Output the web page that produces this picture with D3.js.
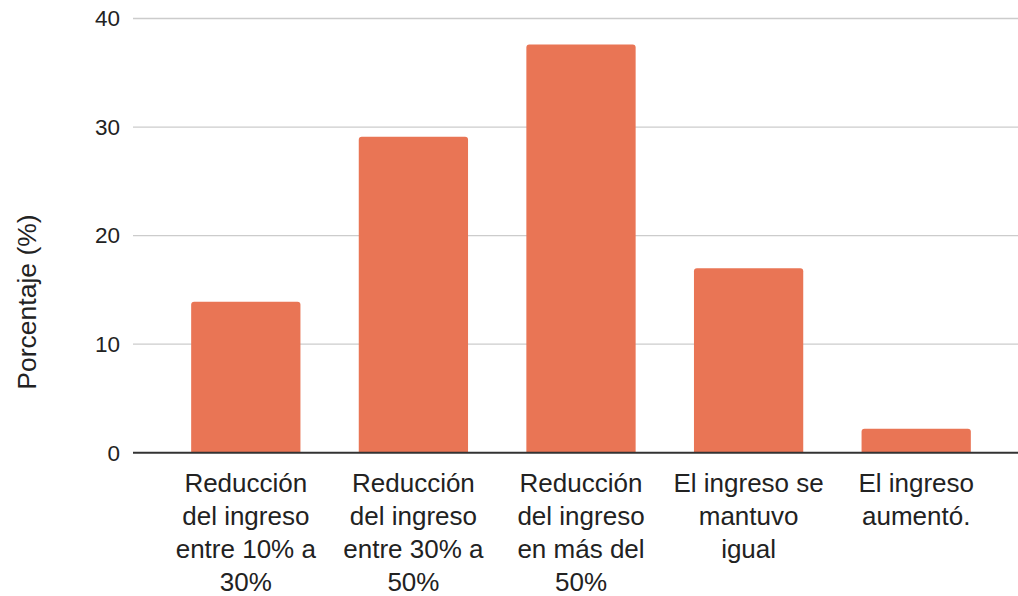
<!DOCTYPE html>
<html>
<head>
<meta charset="utf-8">
<script src="https://cdn.jsdelivr.net/npm/d3@7"></script>
<style>
  body { margin: 0; background: #fff; }
  svg { display: block; font-family: "Liberation Sans", Arial, sans-serif; }
</style>
</head>
<body>
<svg width="1018" height="596"></svg>
<script>
// chart data
var categories = [
  ["Reducción", "del ingreso", "entre 10% a", "30%"],
  ["Reducción", "del ingreso", "entre 30% a", "50%"],
  ["Reducción", "del ingreso", "en más del", "50%"],
  ["El ingreso se", "mantuvo", "igual"],
  ["El ingreso", "aumentó."]
];
var values = [13.9, 29.1, 37.6, 17.0, 2.2];
var yTicks = [0, 10, 20, 30, 40];
var yTitle = "Porcentaje (%)";

var svg = d3.select("svg");

// scales
var x = d3.scaleBand()
  .domain(d3.range(categories.length))
  .range([162, 1000])
  .paddingInner(0.348)
  .paddingOuter(0.174);

var y = d3.scaleLinear()
  .domain([0, 40])
  .range([452.7, 18.5]);

// gridlines
svg.append("g")
  .selectAll("line")
  .data(yTicks.filter(function(d){ return d > 0; }))
  .enter().append("line")
    .attr("x1", 133)
    .attr("x2", 1018)
    .attr("y1", function(d){ return y(d); })
    .attr("y2", function(d){ return y(d); })
    .attr("stroke", "#cccccc")
    .attr("stroke-width", 1.3);

// y tick labels
svg.append("g")
  .selectAll("text")
  .data(yTicks)
  .enter().append("text")
    .attr("x", 120)
    .attr("y", function(d){ return y(d); })
    .attr("dy", "0.35em")
    .attr("text-anchor", "end")
    .attr("font-size", "22.5px")
    .attr("fill", "#222")
    .text(function(d){ return d; });

// bars with rounded top corners
function barPath(x0, w, yTop, yBase, r) {
  r = Math.min(r, (yBase - yTop));
  return "M" + x0 + "," + yBase +
    "V" + (yTop + r) +
    "Q" + x0 + "," + yTop + " " + (x0 + r) + "," + yTop +
    "H" + (x0 + w - r) +
    "Q" + (x0 + w) + "," + yTop + " " + (x0 + w) + "," + (yTop + r) +
    "V" + yBase + "Z";
}

svg.append("g")
  .selectAll("path")
  .data(values)
  .enter().append("path")
    .attr("d", function(d, i){ return barPath(x(i), x.bandwidth(), y(d), y(0), 3); })
    .attr("fill", "#e97555");

// baseline
svg.append("line")
  .attr("x1", 133)
  .attr("x2", 1018)
  .attr("y1", y(0))
  .attr("y2", y(0))
  .attr("stroke", "#333")
  .attr("stroke-width", 2);

// x labels
var labels = svg.append("g")
  .selectAll("text")
  .data(categories)
  .enter().append("text")
    .attr("text-anchor", "middle")
    .attr("font-size", "26px")
    .attr("fill", "#222")
    .attr("transform", function(d, i){ return "translate(" + (x(i) + x.bandwidth() / 2) + ",492)"; });

labels.selectAll("tspan")
  .data(function(d){ return d; })
  .enter().append("tspan")
    .attr("x", 0)
    .attr("y", function(d, i){ return i * 33; })
    .text(function(d){ return d; });

// y title
svg.append("text")
  .attr("transform", "translate(36,302) rotate(-90)")
  .attr("text-anchor", "middle")
  .attr("font-size", "26.5px")
  .attr("fill", "#222")
  .text(yTitle);
</script>
</body>
</html>
